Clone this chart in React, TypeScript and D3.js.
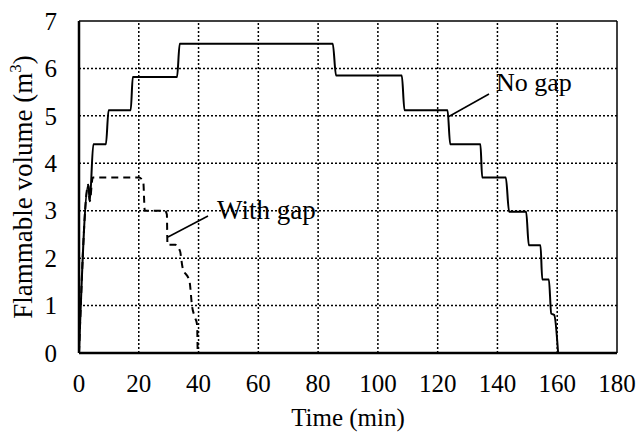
import { useEffect, useRef } from 'react';
import * as d3 from 'd3';

// No gap curve, time (min) vs flammable volume (m3)
const noGapTime = [0, 3.1, 3.6, 4.8, 9.0, 9.9, 17.3, 18.0, 32.8, 33.7, 84.9, 86.0, 108.0, 108.9, 123.3, 124.2, 134.3, 134.9, 142.8, 143.9, 149.6, 150.5, 154.4, 155.0, 157.2, 158.0, 159.0, 160.3];
const noGapVol = [0, 3.55, 3.2, 4.4, 4.4, 5.12, 5.12, 5.82, 5.82, 6.52, 6.52, 5.85, 5.85, 5.12, 5.12, 4.4, 4.4, 3.7, 3.7, 2.98, 2.98, 2.27, 2.27, 1.55, 1.55, 0.83, 0.8, 0];

const withGapTime = [0, 3.1, 3.6, 4.6, 20.0, 21.5, 22.0, 28.8, 29.4, 29.6, 32.3, 33.8, 34.6, 37.0, 37.8, 38.8, 39.5, 39.7];
const withGapVol = [0, 3.55, 3.2, 3.7, 3.7, 3.62, 3.0, 3.0, 2.92, 2.28, 2.28, 2.15, 1.82, 1.5, 1.0, 0.75, 0.6, 0];

const xTicks = [0, 20, 40, 60, 80, 100, 120, 140, 160, 180];
const yTicks = [0, 1, 2, 3, 4, 5, 6, 7];

const FONT = "'Liberation Serif', 'DejaVu Serif', 'Times New Roman', serif";

export default function App() {
  const svgRef = useRef<SVGSVGElement>(null);

  useEffect(() => {
    const W = 637, H = 432;
    const m = { left: 79, right: 20, top: 21, bottom: 79 };
    const svg = d3.select(svgRef.current).attr('width', W).attr('height', H);
    svg.selectAll('*').remove();

    const x = d3.scaleLinear().domain([0, 180]).range([m.left, W - m.right]);
    const y = d3.scaleLinear().domain([0, 7]).range([H - m.bottom, m.top]);

    // dotted grid
    const grid = svg.append('g').attr('stroke', '#000').attr('stroke-width', 1.5).attr('stroke-dasharray', '2,2');
    xTicks.slice(1, -1).forEach(t => {
      grid.append('line').attr('x1', x(t)).attr('x2', x(t)).attr('y1', y(0)).attr('y2', y(7));
    });
    yTicks.slice(1, -1).forEach(t => {
      grid.append('line').attr('x1', x(0)).attr('x2', x(180)).attr('y1', y(t)).attr('y2', y(t));
    });

    // frame
    svg.append('line').attr('x1', x(0)).attr('x2', x(180)).attr('y1', y(7)).attr('y2', y(7)).attr('stroke', '#000').attr('stroke-width', 1.5);
    svg.append('line').attr('x1', x(180)).attr('x2', x(180)).attr('y1', y(0)).attr('y2', y(7)).attr('stroke', '#000').attr('stroke-width', 1.5);

    const line = d3.line().curve(d3.curveMonotoneX);
    const noGap = noGapTime.map((t, i) => [x(t), y(noGapVol[i])] as [number, number]);
    const withGap = withGapTime.map((t, i) => [x(t), y(withGapVol[i])] as [number, number]);

    svg.append('path').attr('d', line(withGap))
      .attr('fill', 'none').attr('stroke', '#000').attr('stroke-width', 2).attr('stroke-dasharray', '7,5');
    svg.append('path').attr('d', line(noGap))
      .attr('fill', 'none').attr('stroke', '#000').attr('stroke-width', 2);

    // axes lines
    svg.append('line').attr('x1', x(0)).attr('x2', x(180)).attr('y1', y(0)).attr('y2', y(0)).attr('stroke', '#000').attr('stroke-width', 2.5);
    svg.append('line').attr('x1', x(0)).attr('x2', x(0)).attr('y1', y(0)).attr('y2', y(7)).attr('stroke', '#000').attr('stroke-width', 2.5);

    const txt = svg.append('g').style('font-family', FONT).style('font-size', '25px').attr('fill', '#000');
    xTicks.forEach(t => {
      txt.append('text').attr('x', x(t)).attr('y', 392).attr('text-anchor', 'middle').text(t);
    });
    yTicks.forEach(t => {
      txt.append('text').attr('x', 57).attr('y', y(t)).attr('dy', '0.35em').attr('text-anchor', 'end').text(t);
    });

    txt.append('text').attr('x', (x(0) + x(180)) / 2).attr('y', 426).attr('text-anchor', 'middle').text('Time (min)');
    const yt = txt.append('text').attr('transform', `translate(32,${(y(0) + y(7)) / 2}) rotate(-90)`)
      .attr('text-anchor', 'middle').style('font-size', '27px');
    yt.append('tspan').text('Flammable volume (m');
    yt.append('tspan').style('font-size', '17px').attr('dy', -11).text('3');
    yt.append('tspan').attr('dy', 11).text(')');

    // annotations
    svg.append('line').attr('x1', 489).attr('y1', 94).attr('x2', 448).attr('y2', 117).attr('stroke', '#000').attr('stroke-width', 1.5);
    txt.append('text').attr('x', 496).attr('y', 91).style('font-size', '26px').text('No gap');
    svg.append('line').attr('x1', 208).attr('y1', 216).attr('x2', 168).attr('y2', 237).attr('stroke', '#000').attr('stroke-width', 1.5);
    txt.append('text').attr('x', 217).attr('y', 219).style('font-size', '27px').text('With gap');
  }, []);

  return (
    <div>
      <style>{'body{margin:0}'}</style>
      <svg ref={svgRef} style={{ display: 'block', background: '#fff' }} />
    </div>
  );
}
